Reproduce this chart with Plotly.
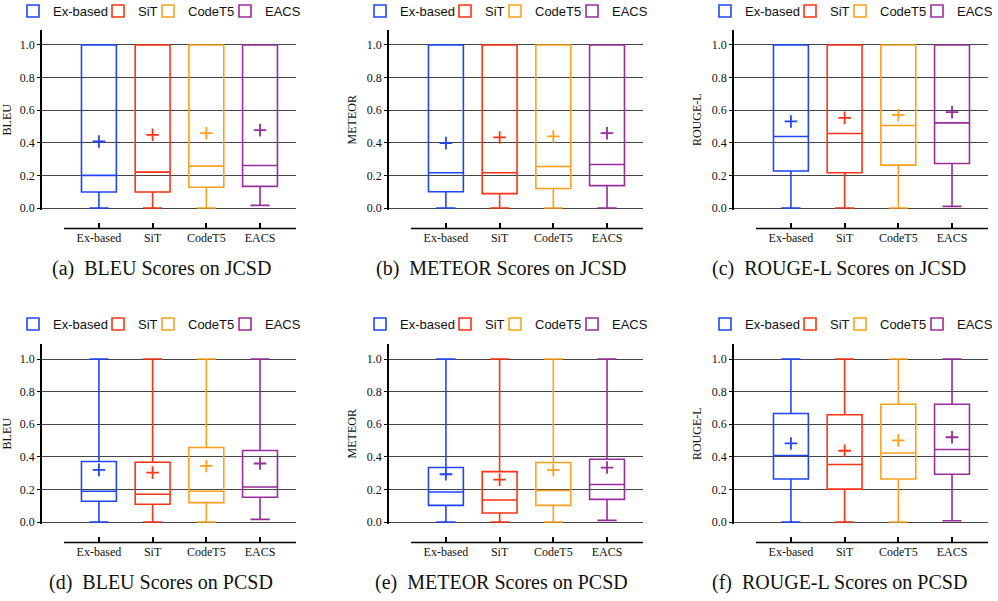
import plotly.graph_objects as go

categories = ["Ex-based", "SiT", "CodeT5", "EACS"]
colors = ["#1f45ff", "#ff3314", "#ffa01c", "#9a2c9b"]

# (a) BLEU Scores on JCSD
bleu_jcsd_lower = [0.0, 0.0, 0.0, 0.016]
bleu_jcsd_q1 = [0.098, 0.098, 0.127, 0.133]
bleu_jcsd_median = [0.200, 0.220, 0.257, 0.261]
bleu_jcsd_q3 = [1.0, 1.0, 1.0, 1.0]
bleu_jcsd_upper = [1.0, 1.0, 1.0, 1.0]
bleu_jcsd_mean = [0.408, 0.449, 0.459, 0.478]

# (b) METEOR Scores on JCSD
meteor_jcsd_lower = [0.0, 0.0, 0.0, 0.0]
meteor_jcsd_q1 = [0.100, 0.088, 0.120, 0.137]
meteor_jcsd_median = [0.216, 0.216, 0.255, 0.267]
meteor_jcsd_q3 = [1.0, 1.0, 1.0, 1.0]
meteor_jcsd_upper = [1.0, 1.0, 1.0, 1.0]
meteor_jcsd_mean = [0.398, 0.433, 0.439, 0.459]

# (c) ROUGE-L Scores on JCSD
rouge_jcsd_lower = [0.0, 0.0, 0.0, 0.010]
rouge_jcsd_q1 = [0.227, 0.216, 0.263, 0.273]
rouge_jcsd_median = [0.439, 0.457, 0.506, 0.522]
rouge_jcsd_q3 = [1.0, 1.0, 1.0, 1.0]
rouge_jcsd_upper = [1.0, 1.0, 1.0, 1.0]
rouge_jcsd_mean = [0.531, 0.553, 0.571, 0.588]

# (d) BLEU Scores on PCSD
bleu_pcsd_lower = [0.0, 0.0, 0.0, 0.016]
bleu_pcsd_q1 = [0.127, 0.109, 0.119, 0.152]
bleu_pcsd_median = [0.189, 0.170, 0.189, 0.215]
bleu_pcsd_q3 = [0.371, 0.367, 0.457, 0.439]
bleu_pcsd_upper = [1.0, 1.0, 1.0, 1.0]
bleu_pcsd_mean = [0.320, 0.303, 0.344, 0.359]

# (e) METEOR Scores on PCSD
meteor_pcsd_lower = [0.0, 0.0, 0.0, 0.010]
meteor_pcsd_q1 = [0.102, 0.055, 0.102, 0.139]
meteor_pcsd_median = [0.184, 0.135, 0.193, 0.230]
meteor_pcsd_q3 = [0.334, 0.309, 0.365, 0.385]
meteor_pcsd_upper = [1.0, 1.0, 1.0, 1.0]
meteor_pcsd_mean = [0.293, 0.260, 0.318, 0.334]

# (f) ROUGE-L Scores on PCSD
rouge_pcsd_lower = [0.0, 0.0, 0.0, 0.008]
rouge_pcsd_q1 = [0.264, 0.202, 0.264, 0.293]
rouge_pcsd_median = [0.408, 0.353, 0.423, 0.445]
rouge_pcsd_q3 = [0.666, 0.658, 0.722, 0.722]
rouge_pcsd_upper = [1.0, 1.0, 1.0, 1.0]
rouge_pcsd_mean = [0.482, 0.437, 0.501, 0.520]

y_titles = ["BLEU", "METEOR", "ROUGE-L", "BLEU", "METEOR", "ROUGE-L"]
captions = ["(a)  BLEU Scores on JCSD", "(b)  METEOR Scores on JCSD",
            "(c)  ROUGE-L Scores on JCSD", "(d)  BLEU Scores on PCSD",
            "(e)  METEOR Scores on PCSD", "(f)  ROUGE-L Scores on PCSD"]
y_tickvals = [0.0, 0.2, 0.4, 0.6, 0.8, 1.0]

panels = [
    (bleu_jcsd_lower, bleu_jcsd_q1, bleu_jcsd_median, bleu_jcsd_q3, bleu_jcsd_upper, bleu_jcsd_mean),
    (meteor_jcsd_lower, meteor_jcsd_q1, meteor_jcsd_median, meteor_jcsd_q3, meteor_jcsd_upper, meteor_jcsd_mean),
    (rouge_jcsd_lower, rouge_jcsd_q1, rouge_jcsd_median, rouge_jcsd_q3, rouge_jcsd_upper, rouge_jcsd_mean),
    (bleu_pcsd_lower, bleu_pcsd_q1, bleu_pcsd_median, bleu_pcsd_q3, bleu_pcsd_upper, bleu_pcsd_mean),
    (meteor_pcsd_lower, meteor_pcsd_q1, meteor_pcsd_median, meteor_pcsd_q3, meteor_pcsd_upper, meteor_pcsd_mean),
    (rouge_pcsd_lower, rouge_pcsd_q1, rouge_pcsd_median, rouge_pcsd_q3, rouge_pcsd_upper, rouge_pcsd_mean),
]

# ---- geometry (pixels) ----
W, H = 998, 601
def px_x(px):
    return px / W
def px_y(py):
    return 1 - py / H

panel_left = [42, 389, 734]
panel_w = 254
row_zero = [208, 522]        # pixel row of value 0
px_per_unit = 163
y_range = [-0.012, 1.095]
x_range = [-1.06, 3.67]
axis_offset = 20.5           # separate x axis line below the plot
legend_y = [11, 324]
legend_item_w = [40, 5, 32, 30]   # per-entry legend widths (px)
caption_y = [268, 582]
caption_x = [161, 501, 839]

SERIF = "Liberation Serif"
SANS = "Liberation Sans"

fig = go.Figure()
layout = dict(width=W, height=H,
              margin=dict(l=0, r=0, t=0, b=0, autoexpand=False),
              paper_bgcolor="white", plot_bgcolor="white",
              boxmode="overlay", showlegend=True)
shapes = []
annotations = []

for i, (lower, q1, med, q3, upper, mean) in enumerate(panels):
    r, c = divmod(i, 3)
    sfx = "" if i == 0 else str(i + 1)
    xa, ya = "x" + sfx, "y" + sfx
    leg = "legend" + sfx
    x0 = panel_left[c]
    z = row_zero[r]

    for j, cat in enumerate(categories):
        fig.add_trace(go.Box(
            x=[cat], q1=[q1[j]], median=[med[j]], q3=[q3[j]],
            lowerfence=[lower[j]], upperfence=[upper[j]],
            name=cat, legend=leg, legendwidth=legend_item_w[j],
            xaxis=xa, yaxis=ya,
            line=dict(color=colors[j], width=1.6),
            fillcolor="rgba(0,0,0,0)", width=0.65, whiskerwidth=0.55,
            boxpoints=False, showlegend=True))
    for j, cat in enumerate(categories):
        fig.add_trace(go.Scatter(
            x=[cat], y=[mean[j]], mode="markers", xaxis=xa, yaxis=ya,
            showlegend=False, cliponaxis=False,
            marker=dict(symbol="cross-thin", size=9, color=colors[j],
                        line=dict(width=1.8, color=colors[j]))))

    top_px = z - y_range[1] * px_per_unit
    bot_px = z - y_range[0] * px_per_unit
    layout["xaxis" + sfx] = dict(
        domain=[px_x(x0), px_x(x0 + panel_w)], range=x_range,
        type="category", categoryorder="array", categoryarray=categories,
        anchor="free", position=px_y(z + axis_offset),
        showline=False, showgrid=False, zeroline=False,
        ticks="inside", ticklen=6, tickwidth=1.5, tickcolor="black",
        tickfont=dict(family=SERIF, size=12, color="#111"))
    layout["yaxis" + sfx] = dict(
        domain=[px_y(bot_px), px_y(top_px)], range=y_range,
        anchor=xa, tickvals=y_tickvals, tickformat=".1f",
        showline=True, linewidth=1.6, linecolor="black",
        ticks="outside", ticklen=3, tickwidth=1.2, tickcolor="black",
        showgrid=True, gridcolor="#444444", gridwidth=1, zeroline=False,
        tickfont=dict(family=SERIF, size=12, color="#111"),
        title=dict(text=y_titles[i], font=dict(family=SERIF, size=12, color="#111"),
                   standoff=8))
    layout[leg] = dict(
        orientation="h", x=px_x(x0 - 29), xanchor="left",
        y=px_y(legend_y[r]), yanchor="middle",
        font=dict(family=SANS, size=13, color="#111"),
        bgcolor="rgba(0,0,0,0)", traceorder="normal")
    # separate x-axis baseline, starting a little right of the y axis
    shapes.append(dict(type="line", xref=xa, yref="paper",
                       x0=x_range[0] + 22 / 53.7, x1=x_range[1],
                       y0=px_y(z + axis_offset), y1=px_y(z + axis_offset),
                       line=dict(color="black", width=1.6)))
    annotations.append(dict(text=captions[i], xref="paper", yref="paper",
                            x=px_x(caption_x[c]), y=px_y(caption_y[r]),
                            xanchor="center", yanchor="middle", showarrow=False,
                            font=dict(family=SERIF, size=20, color="#111")))

layout["shapes"] = shapes
layout["annotations"] = annotations
fig.update_layout(**layout)
# remove the browser's default 8px page margin so the figure sits at (0, 0)
fig.write_html("out.html", config={"displayModeBar": False},
               post_script="document.body.style.margin='0px';")
